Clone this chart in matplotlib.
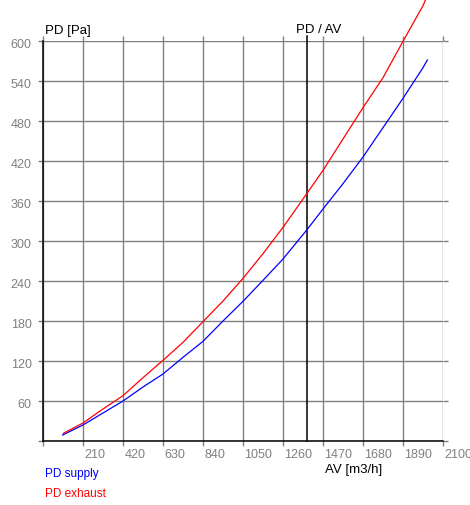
import matplotlib
matplotlib.use("Agg")
import matplotlib.pyplot as plt

# airflow [m3/h] and pressure drop [Pa]
supply_av = [103, 210, 315, 420, 525, 630, 735, 840, 945, 1050, 1155, 1260,
             1386, 1470, 1575, 1680, 1785, 1890, 1995, 2018]
supply_pd = [9, 24, 42, 60, 81, 100.5, 125.5, 149.5, 180, 209.5, 241, 273,
             317, 348, 386, 426, 470, 514, 560, 571.5]
exhaust_av = [107, 210, 315, 420, 525, 630, 735, 840, 945, 1050, 1155, 1260,
              1386, 1470, 1575, 1680, 1785, 1890, 1995, 2018]
exhaust_pd = [11.5, 27, 48, 68, 95, 121, 148, 179, 210, 244, 281, 320.5,
              371.5, 406, 453, 500, 545, 599.5, 653, 668]
marker_av = 1386

x_ticks = list(range(0, 2101, 210))
y_ticks = list(range(0, 601, 60))

plt.rcParams['font.family'] = ['Liberation Sans', 'DejaVu Sans']
W, H = 470, 506
fig = plt.figure(figsize=(W / 100, H / 100), dpi=100)
ax = fig.add_axes([43 / W, (H - 442) / H, 400 / W, 400 / H])
ax.set_xlim(0, 2100)
ax.set_ylim(0, 600)

grey = '#808080'
ax.set_xticks(x_ticks)
ax.set_yticks(y_ticks)
ax.set_xticklabels([])
ax.set_yticklabels([])
ax.grid(True, color=grey, lw=1.0, zorder=0)
ax.tick_params(which='both', direction='out', length=3.6, width=1.0, color=grey,
               top=True, right=True, bottom=True, left=True)
for s in ['top', 'right']:
    ax.spines[s].set_visible(False)
for s in ['left', 'bottom']:
    ax.spines[s].set_color('black')
    ax.spines[s].set_linewidth(1.1)
    ax.spines[s].set_zorder(3)

for v in x_ticks[1:]:
    ax.text(v + 8, -20, str(v), color=grey, fontsize=9, ha='left', va='center')
for v in y_ticks[1:]:
    ax.text(-60, v - 4, str(v), color=grey, fontsize=9, ha='right', va='center')

ax.plot([marker_av, marker_av], [0, 607.5], color='black', lw=1.1, clip_on=False, zorder=3)
ax.plot(supply_av, supply_pd, color='blue', lw=0.9, zorder=4)
ax.plot(exhaust_av, exhaust_pd, color='red', lw=0.9, clip_on=False, zorder=4)

fig.text(45 / W, 1 - 31 / H, 'PD [Pa]', fontsize=9.5, ha='left', va='center')
fig.text(319 / W, 1 - 30 / H, 'PD / AV', fontsize=9.5, ha='center', va='center')
fig.text(325 / W, 1 - 470 / H, 'AV [m3/h]', fontsize=9.5, ha='left', va='center')
fig.text(45 / W, 1 - 474 / H, 'PD supply', fontsize=8.5, color='blue', ha='left', va='center')
fig.text(45 / W, 1 - 494 / H, 'PD exhaust', fontsize=8.5, color='red', ha='left', va='center')

fig.savefig('out.png', dpi=100)
